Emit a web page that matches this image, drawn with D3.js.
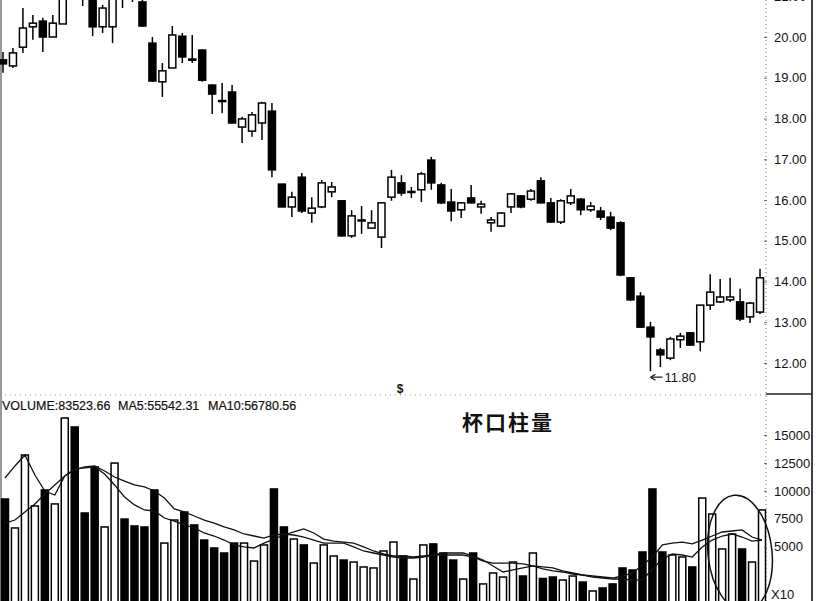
<!DOCTYPE html>
<html>
<head>
<meta charset="utf-8">
<script src="https://cdn.jsdelivr.net/npm/d3@7"></script>
<style>
  body { margin: 0; background: #fff; }
  svg { display: block; }
</style>
</head>
<body>
<div id="plot"></div>
<script>
// ############ DATA ###############

const opens  = [19.44,19.29,19.75,20.25,20.39,20.00,20.32,21.80,21.50,21.05,20.25,20.25,21.30,21.20,20.86,19.85,18.90,19.24,20.02,19.46,
                19.68,18.82,18.44,18.65,17.79,17.69,17.89,18.18,16.39,15.83,16.56,15.68,15.83,16.20,15.98,15.12,15.49,15.31,15.09,16.07,
                16.42,16.19,16.25,16.98,16.37,15.95,15.76,16.05,15.83,15.44,15.36,15.83,16.10,16.02,16.47,15.93,15.46,15.93,16.02,15.76,
                15.73,15.58,15.44,14.09,13.64,12.88,12.32,12.12,12.57,12.74,12.52,13.42,13.50,13.55,13.50,13.13,13.25];
const highs  = [19.63,19.73,20.71,20.54,20.47,20.54,21.30,22.00,21.70,21.20,20.79,21.10,21.40,21.30,20.95,20.00,19.36,20.27,20.10,20.05,
                19.70,18.84,18.87,18.82,18.04,18.16,18.41,18.38,16.40,16.20,16.66,16.07,16.49,16.44,16.00,15.75,15.85,15.75,15.95,16.74,
                16.61,16.32,16.69,17.06,16.42,16.27,15.95,16.37,15.98,15.58,15.70,16.17,16.12,16.27,16.56,16.05,16.02,16.27,16.05,15.95,
                15.83,15.71,15.48,14.11,13.74,13.01,12.37,12.64,12.74,12.76,13.43,14.18,14.06,14.09,13.82,13.50,14.31];
const lows   = [19.12,19.24,19.61,19.93,19.63,20.00,20.32,21.15,20.76,20.02,20.10,19.85,20.71,20.86,20.25,18.90,18.53,19.24,19.36,19.36,
                18.90,18.11,18.13,17.88,17.40,17.55,17.47,16.56,15.82,15.58,15.68,15.44,15.80,16.07,15.10,15.07,15.17,15.30,14.82,15.98,
                16.10,16.05,15.95,16.25,15.90,15.48,15.56,15.92,15.66,15.22,15.34,15.68,15.80,15.98,15.92,15.44,15.41,15.88,15.63,15.71,
                15.51,15.26,14.13,13.52,12.86,11.80,11.90,12.07,12.37,12.42,12.29,13.30,13.47,13.50,13.03,12.98,13.20];
const closes = [19.34,19.61,20.22,20.34,20.00,20.34,21.20,21.30,21.10,20.25,20.71,21.00,21.00,21.00,20.27,18.92,19.17,20.05,19.51,19.43,
                18.94,18.60,18.42,17.89,17.99,18.09,18.38,16.74,15.83,16.07,15.73,15.80,16.42,16.32,15.12,15.61,15.51,15.44,15.93,16.56,
                16.17,16.21,16.64,16.42,15.93,15.73,15.93,15.93,15.90,15.51,15.68,16.15,15.83,16.22,15.93,15.46,15.98,16.10,15.76,15.85,
                15.58,15.31,14.16,13.55,12.88,12.64,12.20,12.59,12.66,12.44,13.42,13.74,13.62,13.62,13.08,13.47,14.09];

const volumes = [9270,6680,13210,8650,10080,8830,16520,15720,8020,12140,6770,12490,7480,6860,6770,10080,5330,7390,8110,6950,
                 5600,4890,4440,5330,5330,3720,5160,10170,6770,5690,5160,3540,5160,4170,3810,3630,3190,3100,4620,5420,
                 4170,2110,5160,5250,4440,3810,2110,4440,1670,2650,2290,3630,2380,4440,2160,2290,2020,2380,1840,1040,
                 1310,1670,3100,2920,4530,10170,4530,4260,4080,3190,9360,7930,4800,6140,4800,3630,8290];
const ma5  = [11150,12230,13210,11420,9990,9630,11330,11960,12050,12140,11510,10530,9450,8740,8290,8200,7570,7300,6950,6680,
              6230,5960,5600,5160,4980,4890,5330,5690,6050,6320,6590,6230,5690,5510,5420,5330,4980,4620,4350,4170,
              4170,4080,4170,4260,4260,4260,4260,4080,3720,3540,3540,3540,3460,3280,3010,2830,2740,2560,2470,2380,
              2290,2200,2380,2650,3370,4080,5160,5330,5420,5250,5600,5960,6320,6410,6500,5870,5600];
const ma10 = [7120,7390,8110,8830,9720,10530,11330,11870,12140,12230,11780,11240,10880,10530,10350,9990,9360,8380,8110,7750,
              7390,7120,6770,6500,6140,5960,5780,6050,6140,6050,5870,5600,5330,5330,5330,4980,4620,4440,4260,4080,
              3990,3990,4080,4260,4440,4440,4440,4170,3810,3280,2740,2920,3100,3280,3190,3100,2830,2650,2470,2290,
              2200,2110,2110,2020,2020,3010,3900,4350,4260,4080,4980,5600,5960,6140,5870,5510,5600];

const priceTicks = [12,13,14,15,16,17,18,19,20,21];
const volTicks = [5000,7500,10000,12500,15000];
const lowIndex = 65;
const lowLabel = "11.80";
const volLegend = ["VOLUME:83523.66", "MA5:55542.31", "MA10:56780.56"];
const note = "杯口柱量";

// ############ SETUP ###############

const w = 824, h = 601;
const axisX = 766;
const font = "Arial, 'Liberation Sans', sans-serif";

const svg = d3.select("div#plot")
  .append("svg")
  .attr("width", w)
  .attr("height", h);

svg.append("rect").attr("width", w).attr("height", h).attr("fill", "#fff");

const xScale = d3.scaleLinear().domain([0, opens.length - 1]).range([3, 760]);
const yScale = d3.scaleLinear().domain([12, 20]).range([363, 37]);
const vScale = d3.scaleLinear().domain([0, 15000]).range([602.6, 435]);

// frame lines
svg.append("line").attr("x1", 1).attr("x2", 1).attr("y1", 0).attr("y2", h)
  .attr("stroke", "#333").attr("stroke-width", 1);
svg.append("line").attr("x1", 812).attr("x2", 812).attr("y1", 0).attr("y2", h)
  .attr("stroke", "#111").attr("stroke-width", 1.6);
svg.append("line").attr("x1", axisX).attr("x2", axisX).attr("y1", 0).attr("y2", h)
  .attr("stroke", "#777").attr("stroke-width", 1).attr("stroke-dasharray", "1,3");
svg.append("line").attr("x1", 0).attr("x2", axisX).attr("y1", 395).attr("y2", 395)
  .attr("stroke", "#999").attr("stroke-width", 1).attr("stroke-dasharray", "1,4");
svg.append("line").attr("x1", axisX).attr("x2", 812).attr("y1", 394).attr("y2", 394)
  .attr("stroke", "#222").attr("stroke-width", 1.4);

// ############ CANDLES ###############

const candles = d3.range(opens.length).map(i => ({
  i: i, o: opens[i], h: highs[i], l: lows[i], c: closes[i], up: closes[i] >= opens[i]
}));

const cg = svg.append("g").attr("id", "candles");

cg.selectAll("line.wick")
  .data(candles)
  .enter()
  .append("line")
    .attr("class", "wick")
    .attr("x1", d => xScale(d.i))
    .attr("x2", d => xScale(d.i))
    .attr("y1", d => yScale(d.h))
    .attr("y2", d => yScale(d.l))
    .attr("stroke", "#000")
    .attr("stroke-width", 1.5);

cg.selectAll("rect.body")
  .data(candles)
  .enter()
  .append("rect")
    .attr("class", "body")
    .attr("x", d => xScale(d.i) - 3.5)
    .attr("width", 7)
    .attr("y", d => yScale(Math.max(d.o, d.c)))
    .attr("height", d => Math.max(1, Math.abs(yScale(d.o) - yScale(d.c))))
    .attr("fill", d => d.up ? "#fff" : "#000")
    .attr("stroke", "#000")
    .attr("stroke-width", 1.5);

// price axis
const yAxis = d3.axisRight(yScale)
  .tickValues(priceTicks)
  .tickFormat(d3.format(".2f"))
  .tickSize(3)
  .tickPadding(7);

const ya = svg.append("g")
  .attr("id", "yaxis")
  .attr("transform", `translate(${axisX - 2}, 0)`)
  .call(yAxis);
ya.select(".domain").remove();
ya.selectAll("line").attr("stroke", "#666");
ya.selectAll("text")
  .attr("font-family", font)
  .attr("font-size", 13)
  .attr("fill", "#111");

// low marker: arrow + value
const lowX = xScale(lowIndex);
const lowY = yScale(lows[lowIndex]) + 6;
svg.append("line")
  .attr("x1", lowX + 1).attr("x2", lowX + 12)
  .attr("y1", lowY).attr("y2", lowY)
  .attr("stroke", "#111").attr("stroke-width", 1.2);
svg.append("path")
  .attr("d", `M${lowX},${lowY} l5,-3 M${lowX},${lowY} l5,3`)
  .attr("stroke", "#111").attr("stroke-width", 1.2).attr("fill", "none");
svg.append("text")
  .attr("x", lowX + 14)
  .attr("y", lowY + 4.5)
  .attr("font-family", font)
  .attr("font-size", 13)
  .attr("fill", "#111")
  .text(lowLabel);

// ############ VOLUME ###############

const vg = svg.append("g").attr("id", "volume");

vg.selectAll("rect")
  .data(candles)
  .enter()
  .append("rect")
    .attr("x", d => xScale(d.i) + 2 - 3.5)
    .attr("width", 7)
    .attr("y", d => vScale(volumes[d.i]))
    .attr("height", d => vScale(0) - vScale(volumes[d.i]))
    .attr("fill", d => d.up ? "#fff" : "#000")
    .attr("stroke", "#000")
    .attr("stroke-width", 1.5);

const maLine = arr => d3.line()
  .x((d, i) => xScale(i) + 2)
  .y(d => vScale(d))(arr);

[ma5, ma10].forEach(arr => {
  vg.append("path")
    .attr("d", maLine(arr))
    .attr("fill", "none")
    .attr("stroke", "#111")
    .attr("stroke-width", 1.3);
});

const vAxis = d3.axisRight(vScale)
  .tickValues(volTicks)
  .tickFormat(d3.format("d"))
  .tickSize(3)
  .tickPadding(7);

const va = svg.append("g")
  .attr("id", "vaxis")
  .attr("transform", `translate(${axisX - 2}, 0)`)
  .call(vAxis);
va.select(".domain").remove();
va.selectAll("line").attr("stroke", "#666");
va.selectAll("text")
  .attr("font-family", font)
  .attr("font-size", 13)
  .attr("fill", "#111");

svg.append("text")
  .attr("x", 771)
  .attr("y", 599)
  .attr("font-family", font)
  .attr("font-size", 13)
  .attr("fill", "#111")
  .text("X10");

// legend texts
const legendX = [2, 118, 208];
svg.selectAll("text.legend")
  .data(volLegend)
  .enter()
  .append("text")
    .attr("class", "legend")
    .attr("x", (d, i) => legendX[i])
    .attr("y", 410)
    .attr("font-family", font)
    .attr("font-size", 12.5)
    .attr("fill", "#111")
    .attr("stroke", "#111")
    .attr("stroke-width", 0.2)
    .text(d => d);

svg.append("text")
  .attr("x", 400)
  .attr("y", 393)
  .attr("text-anchor", "middle")
  .attr("font-family", font)
  .attr("font-weight", "bold")
  .attr("font-size", 12)
  .attr("fill", "#111")
  .text("$");

svg.append("text")
  .attr("x", 462)
  .attr("y", 430)
  .attr("font-family", "'Noto Sans CJK SC', sans-serif")
  .attr("font-weight", "bold")
  .attr("font-size", 21)
  .attr("letter-spacing", 2)
  .attr("fill", "#111")
  .text(note);

// hand-drawn ellipse around the last bars
svg.append("ellipse")
  .attr("cx", 740)
  .attr("cy", 553)
  .attr("rx", 32)
  .attr("ry", 58)
  .attr("transform", "rotate(-6, 740, 553)")
  .attr("fill", "none")
  .attr("stroke", "#111")
  .attr("stroke-width", 1.5);
</script>
</body>
</html>
